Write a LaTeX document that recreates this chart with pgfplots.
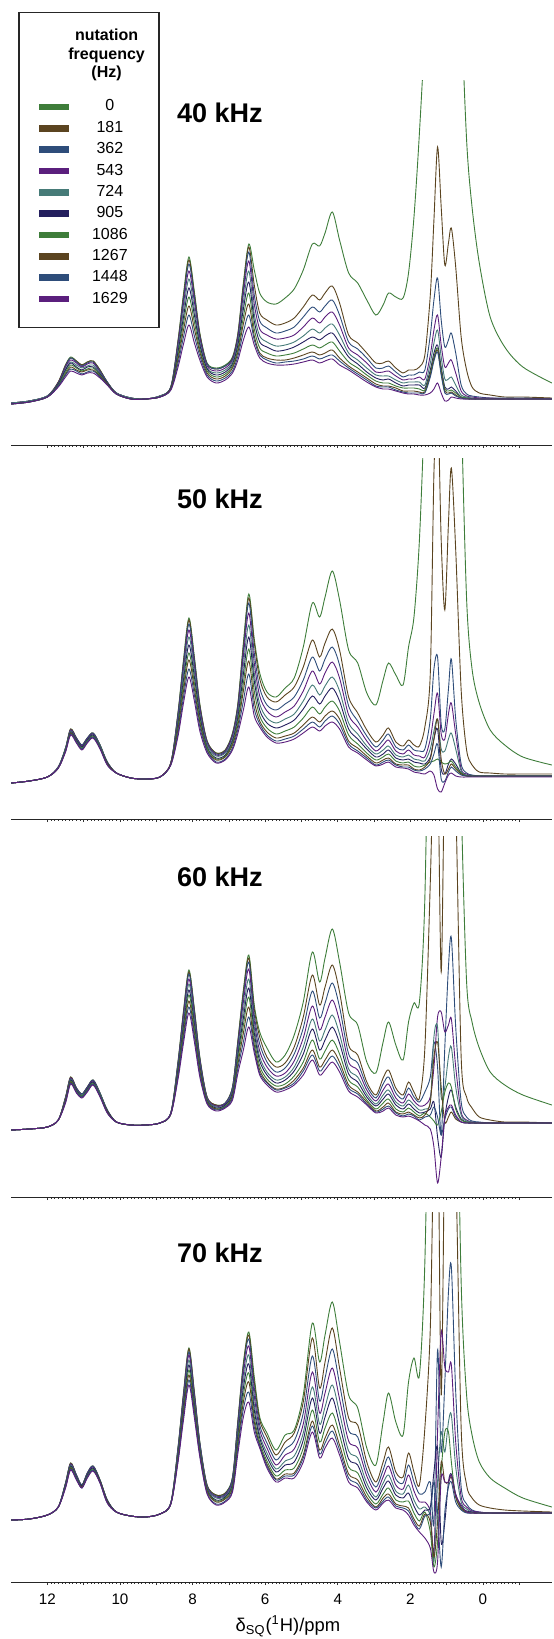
\documentclass[border=0pt]{standalone}
\usepackage{fontspec}
\setmainfont{Liberation Sans}
\usepackage{pgfplots}
\usepackage{pgfplotstable}
\pgfplotsset{compat=1.18}

\definecolor{cG}{HTML}{3E7D3A}
\definecolor{cB}{HTML}{5B4420}
\definecolor{cBl}{HTML}{2E4D7A}
\definecolor{cP}{HTML}{5B1F7D}
\definecolor{cT}{HTML}{467B78}
\definecolor{cN}{HTML}{241F5E}

% heights are in picture pixels above each panel's axis line
% columns: a=0 b=181 c=362 d=543 e=724 f=905 g=1086 h=1267 i=1448 j=1629 Hz
\pgfplotstableread{
x a b c d e f g h i j
13.0 42 42 42 42 42 41 41 41 41 41
12.5 44 44 44 44 44 43 43 43 43 43
12.0 49 49 49 49 49 48 48 48 48 48
11.7 63 63 62 62 61 61 60 59 59 58
11.5 80 80 79 78 76 75 73 71 70 68
11.36 88 87 87 85 83 82 80 78 76 74
11.2 84 84 83 82 80 78 77 75 74 72
11.05 80 80 79 78 77 75 74 73 71 70
10.9 83 83 82 81 79 78 76 75 73 72
10.74 84 84 83 82 80 78 77 75 74 72
10.55 75 75 74 73 72 71 70 69 68 67
10.35 63 63 63 62 62 62 61 61 60 60
10.1 52 52 52 52 52 51 51 51 51 51
9.7 47 47 47 47 47 46 46 46 46 46
9.3 46 46 46 46 46 46 46 46 46 46
8.9 49 49 49 49 49 48 48 48 48 48
8.6 58 58 58 57 57 57 56 56 55 55
8.4 105 104 102 100 96 93 89 86 82 78
8.25 151 149 146 141 135 128 122 115 108 101
8.1 188 185 181 174 166 157 148 139 130 120
7.95 153 151 148 143 136 130 123 116 109 102
7.8 112 111 109 107 103 100 96 93 89 85
7.6 82 81 81 79 77 76 74 72 70 68
7.35 77 76 76 74 72 70 68 66 64 62
7.1 80 79 79 77 75 73 71 69 67 65
6.9 88 87 86 85 83 81 79 77 74 72
6.75 112 111 109 107 103 100 96 93 89 85
6.6 162 160 156 151 143 136 128 121 113 105
6.45 201 198 193 184 174 163 152 141 130 118
6.3 175 160 150 141 131 124 116 109 105 100
6.15 152 132 124 116 109 103 97 92 90 87
5.95 143 125 117 110 103 98 92 87 85 82
5.7 141 120 112 106 99 94 89 85 82 80
5.45 147 122 114 107 100 95 90 85 83 80
5.2 156 127 118 110 103 98 92 87 84 81
4.95 175 138 128 118 109 103 96 90 86 83
4.7 201 150 138 127 116 108 100 93 89 85
4.5 199 145 133 122 112 105 97 90 86 82
4.35 212 152 139 128 117 109 100 92 88 84
4.15 233 159 145 133 121 112 103 95 90 86
3.95 205 142 130 120 110 102 94 87 84 80
3.7 172 110 103 97 92 88 83 79 77 75
3.45 162 102 96 90 85 81 77 73 71 69
3.2 145 92 87 82 77 73 70 67 65 63
2.95 130 82 77 73 70 67 64 61 59 58
2.75 140 82 77 73 69 65 62 59 58 56
2.6 152 84 79 74 69 66 62 59 58 56
2.4 148 77 73 69 65 62 59 57 55 54
2.2 147 72 68 65 62 59 57 54 53 52
2.05 172 75 70 66 63 60 57 54 52 51
1.9 228 75 70 66 63 60 57 54 52 51
1.75 312 78 73 68 63 60 56 53 52 50
1.6 420 90 75 66 60 57 55 53 52 50
1.45 600 150 110 90 82 75 72 70 68 52
1.35 700 225 145 115 102 92 88 86 84 56
1.25 800 298 167 130 115 100 97 95 93 62
1.15 850 238 125 100 88 78 75 72 70 52
1.05 850 180 98 78 66 58 56 54 52 44
0.95 850 202 105 82 66 56 54 52 51 45
0.87 800 217 112 85 68 58 55 53 52 48
0.75 700 178 92 72 60 54 52 50 49 47
0.6 450 108 60 54 50 48 48 47 47 46
0.45 305 75 51 49 48 47 47 46 46 46
0.3 238 58 49 48 47 46 46 46 46 46
0.1 182 52 48 47 46 46 46 46 46 46
-0.2 128 50 47 47 46 46 46 46 46 46
-0.6 98 48 47 46 46 46 46 46 46 46
-1.1 78 48 47 46 46 46 46 46 46 46
-1.9 62 47 46 46 46 46 46 46 46 46
}\tabA

\pgfplotstableread{
x a b c d e f g h i j
13.0 36 36 36 36 36 36 36 36 36 36
12.5 38 38 38 38 38 38 38 38 38 38
12.0 42 42 42 42 42 42 42 42 42 42
11.7 52 52 52 52 52 51 51 51 51 51
11.5 71 71 71 70 70 69 69 68 68 67
11.36 90 90 89 89 88 87 86 86 85 84
11.2 81 81 81 80 79 79 78 77 77 76
11.05 74 74 74 73 72 72 71 70 70 69
10.9 81 81 81 80 79 79 78 77 77 76
10.74 86 86 86 85 84 84 83 82 82 81
10.55 74 74 74 73 73 72 72 71 71 70
10.35 57 57 57 56 56 56 55 55 54 54
10.1 46 46 46 46 46 46 46 46 46 46
9.7 41 41 41 41 41 41 41 41 41 41
9.3 40 40 40 40 40 40 40 40 40 40
8.9 42 42 42 42 42 42 42 42 42 42
8.6 56 56 56 56 55 55 55 55 54 54
8.4 107 106 105 102 99 96 93 90 86 83
8.25 159 157 155 150 145 139 134 128 122 116
8.1 201 199 195 189 182 174 166 159 150 142
7.95 162 160 158 153 148 142 136 130 124 118
7.8 115 114 112 110 106 103 99 96 92 88
7.6 78 78 77 76 74 72 71 69 68 66
7.35 66 66 65 64 63 61 60 59 57 56
7.1 69 69 68 67 66 64 63 62 60 59
6.9 86 85 84 83 80 78 76 74 71 69
6.75 116 115 113 110 106 102 98 94 90 86
6.6 176 173 169 163 154 145 136 128 118 109
6.45 225 221 216 206 194 182 170 158 145 132
6.3 180 176 166 156 146 138 128 118 110 103
6.15 146 140 131 123 115 109 103 98 95 92
5.95 127 122 114 108 101 96 91 87 84 82
5.7 122 117 109 102 96 91 85 81 78 76
5.45 131 124 115 107 100 94 88 83 80 77
5.2 141 132 122 113 105 99 92 86 83 80
4.95 172 152 139 128 118 110 101 94 90 86
4.7 216 179 162 148 134 123 112 102 97 92
4.5 202 162 148 135 124 115 105 97 92 88
4.35 222 176 160 146 133 123 112 103 98 93
4.15 248 190 172 157 142 131 118 108 103 97
3.95 219 169 154 141 128 118 108 100 95 90
3.7 169 122 113 104 96 90 84 78 75 72
3.45 156 106 98 92 85 80 75 71 68 66
3.2 126 89 83 78 73 70 66 63 61 59
2.95 114 77 72 68 65 62 59 56 54 53
2.75 139 84 79 74 69 65 62 59 57 55
2.6 156 91 85 79 73 69 65 61 59 57
2.4 144 77 72 68 64 61 58 55 54 52
2.2 134 73 69 65 62 59 56 54 52 51
2.05 172 79 74 69 64 60 57 54 52 50
1.9 202 74 69 64 60 57 53 50 49 47
1.75 279 73 68 63 59 56 52 49 48 46
1.6 420 92 70 62 58 55 54 52 50 45
1.45 600 146 100 80 70 62 57 60 55 48
1.35 700 346 150 105 88 80 58 80 65 44
1.25 800 420 162 126 100 90 60 100 75 30
1.15 850 279 95 85 70 50 57 60 40 27
1.05 850 209 90 80 68 45 55 45 38 36
0.95 850 296 130 105 80 55 56 50 47 44
0.87 800 351 160 116 86 60 58 55 52 46
0.75 700 269 100 85 70 55 52 50 48 43
0.6 420 129 55 50 48 46 46 45 44 42
0.45 220 69 46 45 44 43 43 43 43 42
0.3 150 54 44 43 43 43 43 43 43 42
0.1 116 47 43 43 43 43 43 43 43 42
-0.2 89 46 43 43 43 43 43 43 43 42
-0.6 74 45 43 43 43 43 43 43 43 42
-1.1 62 45 43 43 43 43 43 43 43 42
-1.9 54 45 43 43 43 43 43 43 43 42
}\tabB

\pgfplotstableread{
x a b c d e f g h i j
13.0 67 67 67 67 67 67 67 67 67 67
12.5 68 68 68 68 68 68 68 68 68 68
12.0 70 70 70 70 70 70 70 70 70 70
11.7 77 77 77 77 77 77 77 77 77 77
11.5 100 100 99 99 98 97 96 96 95 94
11.36 120 120 119 119 118 117 116 115 114 113
11.2 109 109 109 108 107 107 106 105 105 104
11.05 103 103 103 102 102 101 101 100 100 99
10.9 110 110 110 109 108 108 107 106 106 105
10.74 117 117 117 116 115 115 114 113 113 112
10.55 104 104 104 103 103 102 102 101 101 100
10.35 87 87 87 86 86 86 85 85 84 84
10.1 75 75 75 75 75 75 75 75 75 75
9.7 72 72 72 72 72 72 72 72 72 72
9.3 72 72 72 72 72 72 72 72 72 72
8.9 74 74 74 74 74 74 74 74 74 74
8.6 84 84 84 84 84 83 83 83 83 83
8.4 136 135 134 132 130 128 125 123 121 118
8.25 186 185 183 180 175 171 167 163 159 154
8.1 227 225 223 218 213 207 202 196 190 184
7.95 188 187 185 181 177 173 169 164 160 155
7.8 140 139 138 136 133 131 128 126 123 120
7.6 100 100 99 99 98 97 96 95 94 93
7.35 92 92 91 91 90 89 88 88 87 86
7.1 94 94 94 93 92 92 91 90 90 89
6.9 110 110 109 107 106 104 102 101 99 97
6.75 157 156 154 150 146 142 138 133 129 124
6.6 207 205 201 195 187 179 172 164 155 147
6.45 242 239 235 228 218 209 200 190 180 170
6.3 192 188 182 176 170 164 158 152 148 144
6.15 165 160 153 146 140 136 131 127 124 122
5.95 149 140 135 130 125 122 118 115 114 112
5.7 135 130 125 121 117 114 111 108 107 105
5.45 142 134 129 124 120 117 113 110 109 107
5.2 162 150 143 136 130 126 121 117 114 112
4.95 195 180 169 159 150 143 135 129 126 122
4.7 245 222 206 191 178 168 157 147 142 137
4.5 215 192 179 167 156 147 138 130 126 122
4.35 239 210 194 180 167 157 146 137 132 127
4.15 268 232 214 197 182 170 157 147 141 135
3.95 235 205 190 176 163 154 143 135 130 125
3.7 184 152 143 135 128 123 117 112 109 106
3.45 172 142 134 127 120 115 110 105 103 100
3.2 135 115 111 107 103 100 97 95 93 92
2.95 124 102 99 96 93 91 88 86 85 84
2.75 155 119 113 107 102 98 94 90 88 86
2.6 175 127 120 113 107 103 98 94 91 89
2.4 152 109 104 99 95 92 88 85 84 82
2.2 137 102 98 94 91 88 85 83 81 80
2.05 175 115 109 103 97 93 89 85 83 81
1.9 194 105 100 96 92 88 85 82 81 79
1.75 195 99 95 91 87 84 81 79 77 76
1.6 299 149 105 92 88 85 84 82 80 72
1.45 600 315 120 100 95 88 80 95 82 68
1.35 700 450 155 130 160 95 76 140 90 50
1.25 800 450 130 180 170 60 72 155 80 14
1.15 850 225 62 185 100 40 85 110 62 40
1.05 850 450 150 165 110 80 105 75 78 80
0.95 850 500 230 172 140 100 114 80 88 90
0.87 800 500 259 178 150 107 110 85 90 92
0.75 700 400 170 130 110 90 88 78 80 82
0.6 400 140 95 85 82 78 77 75 75 75
0.45 215 100 80 77 76 75 75 74 74 74
0.3 175 89 76 75 75 74 74 74 74 74
0.1 149 80 75 74 74 74 74 74 74 74
-0.2 125 77 74 74 74 74 74 74 74 74
-0.6 112 75 74 74 74 74 74 74 74 74
-1.1 102 75 74 74 74 74 74 74 74 74
-1.9 92 74 74 74 74 74 74 74 74 74
}\tabC

\pgfplotstableread{
x a b c d e f g h i j
13.0 62 62 62 62 62 62 62 62 62 62
12.5 63 63 63 63 63 63 63 63 63 63
12.0 67 67 67 67 67 67 67 67 67 67
11.7 75 75 75 75 75 75 75 75 75 75
11.5 99 99 99 98 97 97 96 95 95 94
11.36 119 119 118 118 117 116 115 114 113 112
11.2 107 107 107 106 105 105 104 103 103 102
11.05 97 97 97 96 96 96 95 95 94 94
10.9 109 109 109 108 107 107 106 105 105 104
10.74 116 116 116 115 114 114 113 112 112 111
10.55 102 102 102 101 101 101 100 100 99 99
10.35 82 82 82 81 81 81 80 80 79 79
10.1 70 70 70 70 70 70 70 70 70 70
9.7 66 66 66 66 66 66 66 66 66 66
9.3 65 65 65 65 65 65 65 65 65 65
8.9 68 68 68 68 68 68 68 68 68 68
8.6 79 79 79 79 79 78 78 78 78 78
8.4 135 134 134 132 130 128 126 124 122 120
8.25 189 188 186 184 180 177 173 170 166 162
8.1 234 233 230 227 222 217 212 207 202 197
7.95 190 189 187 185 181 178 175 171 168 164
7.8 140 139 139 137 135 133 131 129 127 125
7.6 97 97 96 95 94 93 92 91 89 88
7.35 87 87 86 85 84 82 81 80 78 77
7.1 89 89 88 87 86 85 84 83 81 80
6.9 105 104 104 102 100 98 96 94 92 90
6.75 162 161 159 155 151 147 143 138 134 129
6.6 219 217 214 208 201 194 187 180 173 165
6.45 250 247 243 236 227 218 209 200 190 180
6.3 205 200 194 186 178 172 165 160 155 150
6.15 165 162 157 152 147 144 140 137 136 134
5.95 149 145 139 134 129 125 121 118 116 114
5.7 132 127 122 117 113 110 106 103 102 100
5.45 147 140 133 127 121 117 112 108 106 104
5.2 152 149 141 133 126 120 114 109 107 104
4.95 187 180 169 158 149 142 134 127 124 120
4.7 259 244 226 210 195 184 172 161 156 150
4.5 220 194 181 169 158 149 140 132 128 124
4.35 247 220 204 189 175 165 154 144 139 134
4.15 280 254 233 214 197 184 169 157 151 144
3.95 240 214 198 183 169 158 147 137 132 127
3.7 187 164 152 141 131 123 115 108 104 100
3.45 174 157 145 134 124 117 109 102 98 94
3.2 134 120 112 106 99 94 89 85 82 80
2.95 117 100 95 90 85 82 78 75 74 72
2.75 160 120 112 105 99 94 88 84 81 79
2.6 189 135 125 116 107 101 94 88 85 82
2.4 160 110 103 97 91 87 82 78 76 74
2.2 147 105 99 93 88 84 80 76 74 72
2.05 200 129 117 107 97 89 81 74 71 67
1.9 224 110 100 91 82 76 69 63 60 57
1.75 207 97 88 80 73 67 61 56 53 50
1.6 320 154 90 80 75 72 70 68 66 44
1.45 600 254 100 70 65 75 50 60 70 34
1.35 700 450 60 30 20 110 15 25 100 10
1.25 800 500 232 150 100 134 40 60 70 20
1.15 850 187 130 250 150 40 110 120 15 104
1.05 850 450 200 215 130 60 150 100 70 100
0.95 850 500 290 210 160 100 150 100 95 100
0.87 800 500 315 217 167 108 120 105 100 107
0.75 600 420 190 140 115 88 85 85 80 87
0.6 300 154 95 85 80 75 74 73 72 77
0.45 187 97 78 75 73 71 70 70 69 70
0.3 147 84 72 71 70 70 69 69 69 69
0.1 120 77 70 70 69 69 69 69 69 69
-0.2 104 74 69 69 69 69 69 69 69 69
-0.6 94 72 69 69 69 69 69 69 69 69
-1.1 84 71 69 69 69 69 69 69 69 69
-1.9 75 70 69 69 69 69 69 69 69 69
}\tabD

\newcommand{\drawspectra}[1]{%
  \addplot[cG] table[x=x,y=a]{#1};
  \addplot[cB] table[x=x,y=b]{#1};
  \addplot[cBl] table[x=x,y=c]{#1};
  \addplot[cP] table[x=x,y=d]{#1};
  \addplot[cT] table[x=x,y=e]{#1};
  \addplot[cN] table[x=x,y=f]{#1};
  \addplot[cG] table[x=x,y=g]{#1};
  \addplot[cB] table[x=x,y=h]{#1};
  \addplot[cBl] table[x=x,y=i]{#1};
  \addplot[cP] table[x=x,y=j]{#1};
}

\pgfplotsset{
  every axis plot/.append style={smooth, line width=0.45pt},
  panel/.style={
    scale only axis, width=270.4pt, height=#1*0.5pt,
    x dir=reverse, xmin=-1.9, xmax=13, ymin=0, ymax=#1,
    axis x line*=bottom, hide y axis,
    axis line style={line width=0.45pt, black!85},
    xtick={-1,0,...,12}, xticklabels={},
    minor x tick num=9,
    tick align=outside, major tick length=1.6pt, minor tick length=0.9pt,
    every tick/.style={black!80, line width=0.35pt},
    /pgf/number format/assume math mode=true,
  },
}

\begin{document}
\begin{tikzpicture}
\useasboundingbox (0,0) rectangle (276.5pt,-819.5pt);

\begin{axis}[panel=365, at={(5.55pt,-222.5pt)}, anchor=south west,
  legend entries={0,181,362,543,724,905,1086,1267,1448,1629},
  legend cell align=center,
  legend image code/.code={\fill[#1] (0pt,-1.4pt) rectangle (14.5pt,1.4pt);},
  legend style={at={(axis description cs:0.0516,0.948)}, anchor=north west,
    draw=none, fill=none, inner sep=0pt, outer sep=0pt,
    font=\fontsize{8}{9}\selectfont, row sep=2.67pt, column sep=11.6pt,
    nodes={inner sep=0pt, text height=6pt, text depth=2pt}},
]
\drawspectra{\tabA}
\end{axis}

\begin{axis}[panel=361, at={(5.55pt,-409.5pt)}, anchor=south west]
\drawspectra{\tabB}
\end{axis}

\begin{axis}[panel=361, at={(5.55pt,-598.5pt)}, anchor=south west]
\drawspectra{\tabC}
\end{axis}

\begin{axis}[panel=370, at={(5.55pt,-791pt)}, anchor=south west,
  xticklabels={,0,,2,,4,,6,,8,,10,,12},
  xticklabel style={font=\fontsize{7.6}{9}\selectfont, yshift=-1pt},
  xlabel={δ\textsubscript{SQ}(\textsuperscript{1}H)/ppm},
  xlabel style={font=\fontsize{9.2}{11}\selectfont, at={(axis description cs:0.512,0)}, anchor=center, yshift=-22pt},
]
\drawspectra{\tabD}
\end{axis}

\draw[line width=0.6pt, black!85] (9.5pt,-6.15pt) rectangle (79.5pt,-163.9pt);
\node[font=\fontsize{8}{9.3}\selectfont\bfseries, align=center] at (53.3pt,-27.5pt) {nutation\\frequency\\(Hz)};

\node[font=\fontsize{13.5}{16}\selectfont\bfseries] at (110pt,-56.5pt) {40 kHz};
\node[font=\fontsize{13.5}{16}\selectfont\bfseries] at (110pt,-249.5pt) {50 kHz};
\node[font=\fontsize{13.5}{16}\selectfont\bfseries] at (110pt,-438.5pt) {60 kHz};
\node[font=\fontsize{13.5}{16}\selectfont\bfseries] at (110pt,-626.5pt) {70 kHz};
\end{tikzpicture}
\end{document}
